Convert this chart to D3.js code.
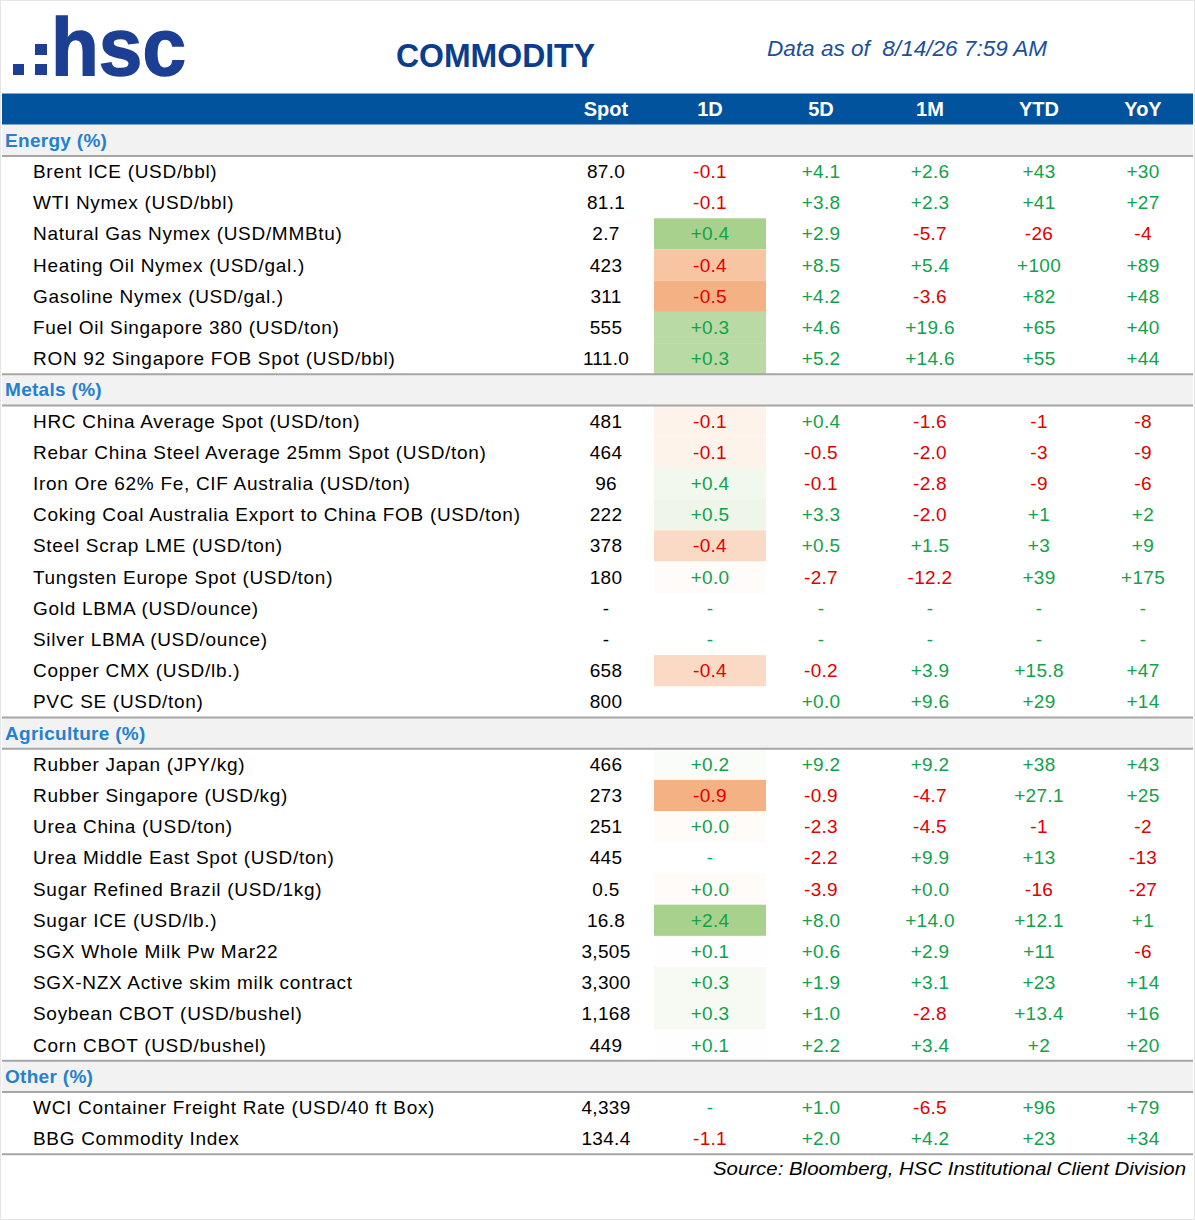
<!DOCTYPE html>
<html>
<head>
<meta charset="utf-8">
<script src="https://cdn.jsdelivr.net/npm/d3@7"></script>
<style>
  body { margin: 0; background: #fff; }
  svg { display: block; font-family: "Liberation Sans", Arial, sans-serif; }
</style>
</head>
<body>
<svg id="table-svg" width="1195" height="1220"></svg>
<script>
// ---- data ----
const title = "COMMODITY"
const asOf = "Data as of  8/14/26 7:59 AM"
const source = "Source: Bloomberg, HSC Institutional Client Division"
const changeCols = ["1D", "5D", "1M", "YTD", "YoY"]
const sectionNames = ["Energy", "Metals", "Agriculture", "Other"]

const energyNames = ["Brent ICE (USD/bbl)", "WTI Nymex (USD/bbl)", "Natural Gas Nymex (USD/MMBtu)",
    "Heating Oil Nymex (USD/gal.)", "Gasoline Nymex (USD/gal.)", "Fuel Oil Singapore 380 (USD/ton)",
    "RON 92 Singapore FOB Spot (USD/bbl)"]
const energySpot = ["87.0", "81.1", "2.7", "423", "311", "555", "111.0"]
const energyChg = [
    [-0.1, 4.1, 2.6, 43, 30],
    [-0.1, 3.8, 2.3, 41, 27],
    [0.4, 2.9, -5.7, -26, -4],
    [-0.4, 8.5, 5.4, 100, 89],
    [-0.5, 4.2, -3.6, 82, 48],
    [0.3, 4.6, 19.6, 65, 40],
    [0.3, 5.2, 14.6, 55, 44]
]

const metalsNames = ["HRC China Average Spot (USD/ton)", "Rebar China Steel Average 25mm Spot (USD/ton)",
    "Iron Ore 62% Fe, CIF Australia (USD/ton)", "Coking Coal Australia Export to China FOB (USD/ton)",
    "Steel Scrap LME (USD/ton)", "Tungsten Europe Spot (USD/ton)", "Gold LBMA (USD/ounce)",
    "Silver LBMA (USD/ounce)", "Copper CMX (USD/lb.)", "PVC SE (USD/ton)"]
const metalsSpot = ["481", "464", "96", "222", "378", "180", null, null, "658", "800"]
const metalsChg = [
    [-0.1, 0.4, -1.6, -1, -8],
    [-0.1, -0.5, -2.0, -3, -9],
    [0.4, -0.1, -2.8, -9, -6],
    [0.5, 3.3, -2.0, 1, 2],
    [-0.4, 0.5, 1.5, 3, 9],
    [0.0, -2.7, -12.2, 39, 175],
    [null, null, null, null, null],
    [null, null, null, null, null],
    [-0.4, -0.2, 3.9, 15.8, 47],
    ["", 0.0, 9.6, 29, 14]
]

const agriNames = ["Rubber Japan (JPY/kg)", "Rubber Singapore (USD/kg)", "Urea China (USD/ton)",
    "Urea Middle East Spot (USD/ton)", "Sugar Refined Brazil (USD/1kg)", "Sugar ICE (USD/lb.)",
    "SGX Whole Milk Pw Mar22", "SGX-NZX Active skim milk contract", "Soybean CBOT (USD/bushel)",
    "Corn CBOT (USD/bushel)"]
const agriSpot = ["466", "273", "251", "445", "0.5", "16.8", "3,505", "3,300", "1,168", "449"]
const agriChg = [
    [0.2, 9.2, 9.2, 38, 43],
    [-0.9, -0.9, -4.7, 27.1, 25],
    [0.0, -2.3, -4.5, -1, -2],
    [null, -2.2, 9.9, 13, -13],
    [0.0, -3.9, 0.0, -16, -27],
    [2.4, 8.0, 14.0, 12.1, 1],
    [0.1, 0.6, 2.9, 11, -6],
    [0.3, 1.9, 3.1, 23, 14],
    [0.3, 1.0, -2.8, 13.4, 16],
    [0.1, 2.2, 3.4, 2, 20]
]

const otherNames = ["WCI Container Freight Rate (USD/40 ft Box)", "BBG Commodity Index"]
const otherSpot = ["4,339", "134.4"]
const otherChg = [
    [null, 1.0, -6.5, 96, 79],
    [-1.1, 2.0, 4.2, 23, 34]
]

// sections sharing one 1D colour scale (conditional format ranges)
const heatGroups = [["Energy"], ["Metals", "Agriculture"]]

// ---- layout ----
const svg = d3.select("#table-svg")
const svg_width = 1195
const table_left = 2, table_right = 1193
const row_h = 31.2, table_top = 93.5
const blue = "#00539c", green = "#11a24b", red = "#e00000"
const spot_x = 606
const fs = 19

const sectionData = [
    { name: "Energy", names: energyNames, spot: energySpot, chg: energyChg },
    { name: "Metals", names: metalsNames, spot: metalsSpot, chg: metalsChg },
    { name: "Agriculture", names: agriNames, spot: agriSpot, chg: agriChg },
    { name: "Other", names: otherNames, spot: otherSpot, chg: otherChg }
]

let rows = [{ type: "head" }]
sectionData.forEach((s, si) => {
    rows.push({ type: "section", name: s.name, first: si === 0 })
    s.names.forEach((n, i) => rows.push({ type: "item", section: s.name, name: n, spot: s.spot[i], chg: s.chg[i] }))
})

const y = d3.scaleBand()
    .domain(d3.range(rows.length))
    .range([table_top, table_top + rows.length * row_h])
// column centres of the change columns
const x = d3.scaleOrdinal()
    .domain(changeCols)
    .range([710, 821, 930, 1039, 1143])
const cell_w = 112

// heat scale per group: min -> orange, median -> white, max -> green
const heatScale = {}
heatGroups.forEach(g => {
    const vals = rows.filter(r => r.type === "item" && g.includes(r.section))
        .map(r => r.chg[0]).filter(v => typeof v === "number")
    const sc = d3.scaleLinear()
        .domain([d3.min(vals), d3.median(vals), d3.max(vals)])
        .range(["#f4b183", "#ffffff", "#a9d18e"])
    g.forEach(name => heatScale[name] = sc)
})

const locale = d3.formatLocale({ decimal: ".", thousands: ",", grouping: [3], currency: ["$", ""], minus: "-" })
function fmtChg(v, col) {
    if (v === null) return "-"
    if (v === "") return ""
    if (col === "YTD" || col === "YoY") return Number.isInteger(v) ? locale.format("+d")(v) : locale.format("+.1f")(v)
    return locale.format("+.1f")(v)
}

// outer frame
svg.append("rect")
    .attr("x", 0.5).attr("y", 0.5)
    .attr("width", svg_width - 1).attr("height", 1219)
    .attr("fill", "none").attr("stroke", "#e6e6e6")

// ---- top banner ----
const logo = svg.append("g").attr("fill", "#1c3f94")
logo.selectAll("rect")
    .data([[13, 64, 11], [35, 44, 12], [35, 64, 12]])
    .enter().append("rect")
    .attr("x", d => d[0]).attr("y", d => d[1])
    .attr("width", d => d[2]).attr("height", 11)
logo.append("text")
    .attr("x", 51).attr("y", 75)
    .attr("font-size", 82).attr("font-weight", "bold")
    .attr("stroke", "#1c3f94").attr("stroke-width", 1.5)
    .attr("textLength", 135).attr("lengthAdjust", "spacingAndGlyphs")
    .text("hsc")

svg.append("text")
    .attr("x", 396).attr("y", 67)
    .attr("font-size", 34).attr("font-weight", "bold")
    .attr("fill", "#0b3d8c")
    .attr("textLength", 199).attr("lengthAdjust", "spacingAndGlyphs")
    .text(title)

svg.append("text")
    .attr("x", 767).attr("y", 56)
    .attr("font-size", 22).attr("font-style", "italic")
    .attr("fill", "#1a4f9c")
    .attr("textLength", 280).attr("lengthAdjust", "spacingAndGlyphs")
    .style("white-space", "pre")
    .text(asOf)

// ---- table ----
const row_group = svg.selectAll(".row-group")
    .data(rows)
    .enter()
    .append("g")
    .attr("class", "row-group")
    .attr("transform", (d, i) => `translate(0,${y(i)})`)

// header bar
const head = row_group.filter(d => d.type === "head")
head.append("rect")
    .attr("x", table_left).attr("width", table_right - table_left)
    .attr("height", y.bandwidth())
    .attr("fill", blue)
head.selectAll(".head-text")
    .data(["Spot"].concat(changeCols))
    .enter().append("text")
    .attr("class", "head-text")
    .attr("x", d => d === "Spot" ? spot_x : x(d))
    .attr("y", y.bandwidth() / 2).attr("dy", "0.34em")
    .attr("text-anchor", "middle")
    .attr("font-size", 20).attr("font-weight", "bold")
    .attr("fill", "#fff")
    .text(d => d)

// section bands
const sec = row_group.filter(d => d.type === "section")
sec.append("rect")
    .attr("x", table_left).attr("width", table_right - table_left)
    .attr("height", y.bandwidth())
    .attr("fill", "#f2f2f2")
sec.append("text")
    .attr("x", 5).attr("y", y.bandwidth() / 2).attr("dy", "0.34em")
    .attr("font-size", fs).attr("font-weight", "bold")
    .attr("letter-spacing", 0.3)
    .attr("fill", "#2580cf")
    .text(d => d.name + " (%)")

// item rows
const item = row_group.filter(d => d.type === "item")
item.filter(d => heatScale[d.section] && typeof d.chg[0] === "number")
    .append("rect")
    .attr("class", "heat-rect")
    .attr("x", x("1D") - cell_w / 2).attr("width", cell_w)
    .attr("height", y.bandwidth())
    .attr("fill", d => heatScale[d.section](d.chg[0]))
item.append("text")
    .attr("x", 33).attr("y", y.bandwidth() / 2).attr("dy", "0.34em")
    .attr("font-size", fs).attr("letter-spacing", 0.7)
    .attr("fill", "#000")
    .text(d => d.name)
item.append("text")
    .attr("x", spot_x).attr("y", y.bandwidth() / 2).attr("dy", "0.34em")
    .attr("text-anchor", "middle")
    .attr("font-size", fs).attr("letter-spacing", 0.3)
    .attr("fill", "#000")
    .text(d => d.spot === null ? "-" : d.spot)
item.selectAll(".chg-text")
    .data(d => d.chg.map((v, i) => ({ v: v, col: changeCols[i] })))
    .enter().append("text")
    .attr("class", "chg-text")
    .attr("x", d => x(d.col))
    .attr("y", y.bandwidth() / 2).attr("dy", "0.34em")
    .attr("text-anchor", "middle")
    .attr("font-size", fs).attr("letter-spacing", 0.3)
    .attr("fill", d => typeof d.v === "number" && d.v < 0 ? red : green)
    .text(d => fmtChg(d.v, d.col))

// separator lines: above (not first) and below each section band, and table bottom
let line_ys = []
rows.forEach((r, i) => {
    if (r.type === "section") {
        if (!r.first) line_ys.push(y(i))
        line_ys.push(y(i) + y.bandwidth())
    }
})
line_ys.push(y(rows.length - 1) + y.bandwidth())
svg.selectAll(".sep-line")
    .data(line_ys)
    .enter().append("line")
    .attr("class", "sep-line")
    .attr("x1", table_left).attr("x2", table_right)
    .attr("y1", d => d).attr("y2", d => d)
    .attr("stroke", "#a6a6a6").attr("stroke-width", 2)

// footer
svg.append("text")
    .attr("x", 1186)
    .attr("y", y(rows.length - 1) + y.bandwidth() + 14).attr("dy", "0.34em")
    .attr("text-anchor", "end")
    .attr("font-size", fs).attr("font-style", "italic")
    .attr("textLength", 473).attr("lengthAdjust", "spacingAndGlyphs")
    .attr("fill", "#000")
    .text(source)
</script>
</body>
</html>
